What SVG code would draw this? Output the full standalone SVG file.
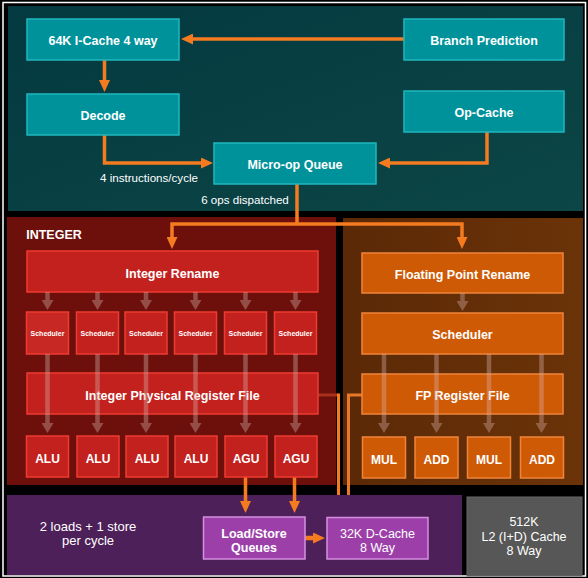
<svg xmlns="http://www.w3.org/2000/svg" width="588" height="578" viewBox="0 0 588 578">
<defs>
<linearGradient id="gTeal" x1="0" y1="0" x2="1" y2="1">
<stop offset="0" stop-color="#033940"/><stop offset="1" stop-color="#0d4646"/>
</linearGradient>
<linearGradient id="gOr" x1="0" y1="0" x2="1" y2="0">
<stop offset="0" stop-color="#5b2907"/><stop offset="1" stop-color="#6b3308"/>
</linearGradient>
<marker id="ah" viewBox="0 0 12 11" refX="4" refY="5.5" markerWidth="12" markerHeight="11" markerUnits="userSpaceOnUse" orient="auto">
<path d="M0,0 L12,5.5 L0,11 z" fill="#f47b20"/>
</marker>
<marker id="dim" viewBox="0 0 10 12" refX="2" refY="6" markerWidth="10" markerHeight="12" markerUnits="userSpaceOnUse" orient="auto">
<path d="M0,0 L10,6 L0,12 z" fill="#d8b0a8"/>
</marker>
<style>
.tb{fill:#00929a;stroke:#1fb7bf;stroke-width:1.5}
.rb{fill:#c3211e;stroke:#ee3b31;stroke-width:1.5}
.ob{fill:#cf5a06;stroke:#f0853a;stroke-width:1.5}
.pb{fill:#9c3fa9;stroke:#d58fe0;stroke-width:1.5}
.t{font-family:"Liberation Sans",Arial,sans-serif;font-weight:bold;font-size:12.5px;fill:#ffffff;text-anchor:middle}
.n{font-family:"Liberation Sans",Arial,sans-serif;font-size:12.5px;fill:#ffffff;text-anchor:middle}
.s{font-family:"Liberation Sans",Arial,sans-serif;font-weight:bold;font-size:7px;fill:#ffffff;text-anchor:middle}
.oa{fill:none;stroke:#f47b20;stroke-width:3.5;marker-end:url(#ah)}
.ol{fill:none;stroke:#f47b20;stroke-width:3.5}
.da{fill:none;stroke:#d8b0a8;stroke-width:4.5;opacity:0.38;marker-end:url(#dim)}
</style>
</defs>
<rect x="0" y="0" width="588" height="578" fill="#000000"/>
<rect x="3" y="2.5" width="582.5" height="573.5" fill="none" stroke="#ffffff" stroke-width="1.5"/>

<g id="panels">
<rect x="8" y="6" width="575" height="205" fill="url(#gTeal)"/>
<rect x="7" y="217" width="329" height="268" fill="#6d100c"/>
<rect x="343" y="218" width="240" height="267" fill="url(#gOr)"/>
<rect x="7" y="495" width="455" height="80" fill="#4e2059"/>
</g>

<g id="connectors">
<path class="oa" d="M404,39 H189"/>
<path class="oa" d="M104.5,60 V84"/>
<path class="oa" d="M104.5,135 V163 H205"/>
<path class="oa" d="M487,132 V163 H386"/>
<path class="ol" d="M297,184 V224"/>
<path class="oa" d="M297,224 H172 V241"/>
<path class="oa" d="M297,224 H462 V241"/>
<path class="oa" d="M245.5,477 V505"/>
<path class="oa" d="M294.5,477 V505"/>
<path class="oa" d="M305,538 H317" style="stroke-width:4.5"/>
<path fill="none" stroke="#a8301c" stroke-width="3" d="M318,395 H338.5"/>
<path fill="none" stroke="#f47b20" stroke-width="3" d="M338.5,393.5 V495"/>
<path fill="none" stroke="#e8782a" stroke-width="3" d="M362,395 H348.5 V495"/>
</g>

<g id="icache"><rect class="tb" x="27" y="19" width="152" height="41"/><text class="t" x="103" y="44.5">64K I-Cache 4 way</text></g>
<g id="branch"><rect class="tb" x="404" y="19" width="160" height="41"/><text class="t" x="484" y="44.5">Branch Prediction</text></g>
<g id="decode"><rect class="tb" x="27" y="94" width="152" height="41"/><text class="t" x="103" y="119.5">Decode</text></g>
<g id="opcache"><rect class="tb" x="404" y="91" width="160" height="41"/><text class="t" x="484" y="117">Op-Cache</text></g>
<g id="microop"><rect class="tb" x="214" y="143" width="162" height="41"/><text class="t" x="295" y="169">Micro-op Queue</text></g>
<g id="labels">
<text class="n" x="149" y="182" style="font-size:11.6px">4 instructions/cycle</text>
<text class="n" x="245" y="204" style="font-size:11.6px">6 ops dispatched</text>
<text class="t" x="54" y="239" style="font-size:12.5px">INTEGER</text>
</g>

<g id="int-rename"><rect class="rb" x="27" y="251" width="291" height="41"/><text class="t" x="172.5" y="278">Integer Rename</text></g>
<g id="int-dim-top">
<path class="da" d="M47.5,292 V302"/>
<path class="da" d="M97.5,292 V302"/>
<path class="da" d="M146,292 V302"/>
<path class="da" d="M195.5,292 V302"/>
<path class="da" d="M245.5,292 V302"/>
<path class="da" d="M295.5,292 V302"/>
</g>
<g id="sched1"><rect class="rb" x="26.5" y="312" width="42" height="42" style="fill:#c82823"/><text class="s" x="47.5" y="336">Scheduler</text></g>
<g id="sched2"><rect class="rb" x="76.5" y="312" width="42" height="42"/><text class="s" x="97.5" y="336">Scheduler</text></g>
<g id="sched3"><rect class="rb" x="125" y="312" width="42" height="42"/><text class="s" x="146" y="336">Scheduler</text></g>
<g id="sched4"><rect class="rb" x="174.5" y="312" width="42" height="42"/><text class="s" x="195.5" y="336">Scheduler</text></g>
<g id="sched5"><rect class="rb" x="224.5" y="312" width="42" height="42"/><text class="s" x="245.5" y="336">Scheduler</text></g>
<g id="sched6"><rect class="rb" x="274.5" y="312" width="42" height="42"/><text class="s" x="295.5" y="336">Scheduler</text></g>
<g id="int-prf"><rect class="rb" x="27" y="373" width="291" height="41"/><text class="t" x="172.5" y="400">Integer Physical Register File</text></g>
<g id="int-dim-lines">
<path class="da" d="M47.5,354 V425"/>
<path class="da" d="M97.5,354 V425"/>
<path class="da" d="M146,354 V425"/>
<path class="da" d="M195.5,354 V425"/>
<path class="da" d="M245.5,354 V425"/>
<path class="da" d="M295.5,354 V425"/>
</g>
<g id="alu1"><rect class="rb" x="26.5" y="436" width="42" height="41"/><text class="t" x="47.5" y="463" style="font-size:12px">ALU</text></g>
<g id="alu2"><rect class="rb" x="77" y="436" width="42" height="41"/><text class="t" x="98" y="463" style="font-size:12px">ALU</text></g>
<g id="alu3"><rect class="rb" x="126" y="436" width="42" height="41"/><text class="t" x="147" y="463" style="font-size:12px">ALU</text></g>
<g id="alu4"><rect class="rb" x="175" y="436" width="42" height="41"/><text class="t" x="196" y="463" style="font-size:12px">ALU</text></g>
<g id="agu1"><rect class="rb" x="225" y="436" width="42" height="41"/><text class="t" x="246" y="463" style="font-size:12px">AGU</text></g>
<g id="agu2"><rect class="rb" x="275" y="436" width="42" height="41"/><text class="t" x="296" y="463" style="font-size:12px">AGU</text></g>

<g id="fp-rename"><rect class="ob" x="362" y="253" width="201" height="40"/><text class="t" x="462.5" y="279">Floating Point Rename</text></g>
<path class="da" d="M462.5,293 V303"/>
<g id="fp-sched"><rect class="ob" x="362" y="313" width="201" height="41"/><text class="t" x="462.5" y="339">Scheduler</text></g>
<g id="fp-prf"><rect class="ob" x="362" y="374" width="201" height="40"/><text class="t" x="462.5" y="400">FP Register File</text></g>
<g id="fp-dim-lines">
<path class="da" d="M384,354 V425"/>
<path class="da" d="M436.5,354 V425"/>
<path class="da" d="M489,354 V425"/>
<path class="da" d="M541.5,354 V425"/>
</g>
<g id="mul1"><rect class="ob" x="362.5" y="437" width="43" height="41"/><text class="t" x="384" y="463.5" style="font-size:12px">MUL</text></g>
<g id="add1"><rect class="ob" x="415" y="437" width="43" height="41"/><text class="t" x="436.5" y="463.5" style="font-size:12px">ADD</text></g>
<g id="mul2"><rect class="ob" x="467.5" y="437" width="43" height="41"/><text class="t" x="489" y="463.5" style="font-size:12px">MUL</text></g>
<g id="add2"><rect class="ob" x="520.5" y="437" width="43" height="41"/><text class="t" x="542" y="463.5" style="font-size:12px">ADD</text></g>

<g id="ls-note">
<text class="n" x="88" y="531" style="font-size:13px">2 loads + 1 store</text>
<text class="n" x="88" y="545" style="font-size:13px">per cycle</text>
</g>
<g id="lsq"><rect class="pb" x="203.5" y="517" width="101.5" height="42"/><text class="t" x="254" y="538">Load/Store</text><text class="t" x="254" y="552">Queues</text></g>
<g id="dcache"><rect class="pb" x="327" y="517.5" width="101" height="41.5"/><text class="n" x="377.5" y="538">32K D-Cache</text><text class="n" x="377.5" y="552">8 Way</text></g>
<g id="l2"><rect x="467" y="497" width="115" height="79" fill="#575757" stroke="#666666" stroke-width="1"/>
<text class="n" x="524" y="526">512K</text><text class="n" x="524" y="540.5">L2 (I+D) Cache</text><text class="n" x="524" y="555">8 Way</text></g>
</svg>
